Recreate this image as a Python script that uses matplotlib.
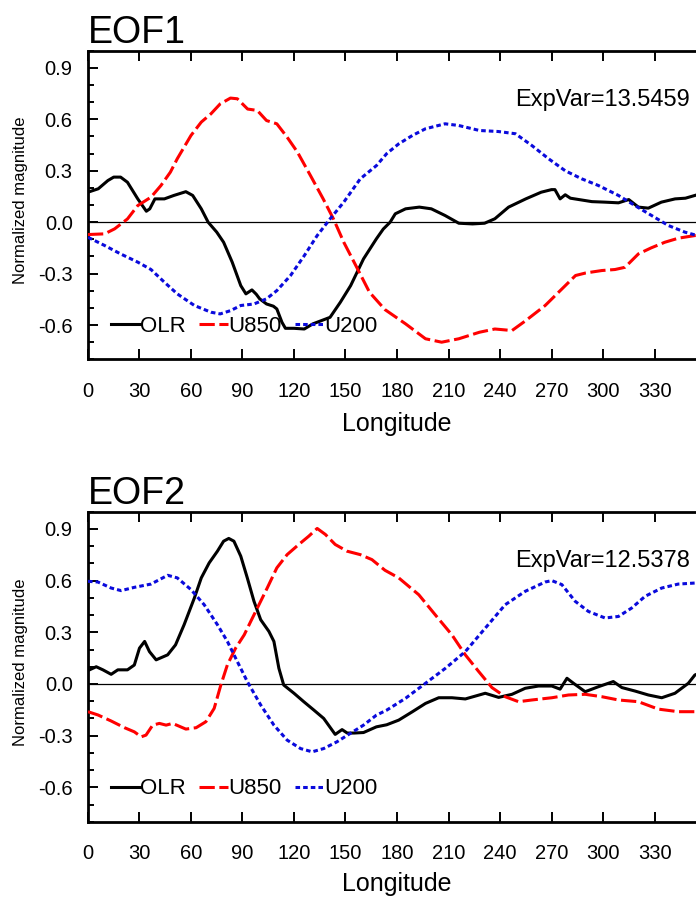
import matplotlib
matplotlib.use("Agg")
import matplotlib.pyplot as plt
from matplotlib.ticker import MultipleLocator

plt.rcParams["font.family"] = ["Liberation Sans", "DejaVu Sans"]
plt.rcParams["axes.unicode_minus"] = False

# ---------------- EOF1 ----------------
eof1_olr_lon = [0, 6, 11.6, 15, 19, 23, 29, 34, 36, 39, 44.5, 50, 57, 61, 66, 70, 75, 79, 84, 89,
                92, 95.5, 98, 100, 104, 108, 110, 113, 115, 120, 126, 131, 141, 147, 153, 160.5,
                168, 172, 176, 179, 185, 193, 200, 208, 216, 224, 231, 237, 245, 255, 264, 270,
                272, 275, 278, 281, 286, 293.5, 301, 309, 315, 320.6, 326.4, 334, 342, 348,
                353.5, 360]
eof1_olr_val = [0.175, 0.195, 0.243, 0.263, 0.263, 0.233, 0.136, 0.064, 0.078, 0.136, 0.136,
                0.156, 0.178, 0.156, 0.078, 0.0, -0.058, -0.117, -0.233, -0.37, -0.418, -0.395,
                -0.42, -0.447, -0.477, -0.49, -0.506, -0.584, -0.619, -0.619, -0.623, -0.593,
                -0.555, -0.467, -0.37, -0.214, -0.097, -0.04, 0.0, 0.049, 0.078, 0.088, 0.078,
                0.039, -0.006, -0.01, -0.006, 0.02, 0.088, 0.136, 0.175, 0.19, 0.19, 0.136, 0.16,
                0.14, 0.132, 0.12, 0.117, 0.113, 0.132, 0.088, 0.082, 0.117, 0.136, 0.14, 0.156,
                0.175]

eof1_u850_lon = [0, 9.7, 15.5, 23, 29, 36.7, 42.5, 48, 52, 60, 66, 71.6, 77, 83, 87, 93, 98.6,
                 104, 110, 116, 122, 129.6, 137, 143, 149, 157, 164, 173, 185, 196.6, 206, 216,
                 228, 237, 247, 255, 266.3, 276, 284, 290, 299.3, 307, 312.8, 320.6, 328, 336,
                 344, 353.5, 360]
eof1_u850_val = [-0.072, -0.068, -0.039, 0.019, 0.097, 0.146, 0.214, 0.292, 0.37, 0.506, 0.584,
                 0.632, 0.69, 0.724, 0.72, 0.66, 0.652, 0.593, 0.574, 0.496, 0.409, 0.272, 0.136,
                 0.019, -0.117, -0.272, -0.409, -0.51, -0.593, -0.68, -0.70, -0.68, -0.642,
                 -0.623, -0.632, -0.574, -0.486, -0.39, -0.311, -0.296, -0.282, -0.276, -0.263,
                 -0.185, -0.15, -0.117, -0.093, -0.078, -0.072]

eof1_u200_lon = [0, 9.7, 19, 29, 36.7, 44.5, 52, 62, 71.6, 77, 83, 89, 96.7, 104, 110, 118, 126,
                 133.5, 141, 149, 158.6, 168, 174, 181, 189, 196.6, 208, 216, 228, 239, 249,
                 258.6, 268.3, 278, 287.6, 297.3, 309, 318.6, 328.3, 338, 347.7, 353.5, 360]
eof1_u200_val = [-0.088, -0.136, -0.185, -0.233, -0.276, -0.35, -0.418, -0.486, -0.525, -0.535,
                 -0.516, -0.486, -0.477, -0.447, -0.399, -0.311, -0.195, -0.078, 0.019, 0.117,
                 0.253, 0.33, 0.40, 0.457, 0.506, 0.545, 0.574, 0.564, 0.535, 0.529, 0.516,
                 0.447, 0.37, 0.30, 0.253, 0.214, 0.156, 0.097, 0.039, -0.019, -0.058, -0.074,
                 -0.088]

# ---------------- EOF2 ----------------
eof2_olr_lon = [0, 4.8, 8.7, 13.5, 17.4, 23, 27, 30, 33, 35.8, 39.7, 46.4, 51, 56, 62, 66, 70.6,
                75.4, 79, 82, 85, 89, 92.8, 96.7, 100.6, 105.4, 108.3, 111.2, 114, 120, 125.7,
                131.5, 137.3, 144, 148, 151, 155, 160.5, 168, 174, 181, 189, 196.6, 204.3, 212,
                219.8, 231.4, 239.2, 247, 254.7, 262.4, 270.2, 275, 279, 282.8, 289.6, 297.3,
                306, 311, 318.6, 326.4, 334.2, 341.9, 349.7, 353.5, 360]
eof2_olr_val = [0.078, 0.10, 0.082, 0.056, 0.082, 0.082, 0.11, 0.208, 0.247, 0.188, 0.14, 0.169,
                0.227, 0.344, 0.50, 0.616, 0.703, 0.771, 0.829, 0.845, 0.829, 0.742, 0.616, 0.48,
                0.373, 0.305, 0.247, 0.091, -0.006, -0.054, -0.103, -0.151, -0.20, -0.293,
                -0.265, -0.285, -0.285, -0.282, -0.249, -0.237, -0.21, -0.161, -0.113, -0.08,
                -0.08, -0.087, -0.054, -0.078, -0.06, -0.025, -0.012, -0.012, -0.03, 0.033,
                0.004, -0.045, -0.016, 0.014, -0.021, -0.041, -0.064, -0.08, -0.054, 0.004,
                0.052, 0.078]

eof2_u850_lon = [0, 5.8, 13.5, 21.3, 27, 31, 33.8, 37.7, 41.6, 45.5, 49.3, 57, 63, 68.7, 73.5,
                 77.4, 81.2, 86, 91, 94.8, 99.6, 104.4, 110, 116, 122.8, 128.6, 133.5, 138.3,
                 144, 150.9, 158.6, 165.4, 173, 181, 192.7, 202.4, 212, 219.8, 227.6, 235.3, 243,
                 250.8, 258.6, 270.2, 279.9, 289.6, 299.3, 309, 320.6, 332.2, 343.8, 353.5, 360]
eof2_u850_val = [-0.161, -0.18, -0.215, -0.254, -0.278, -0.307, -0.297, -0.239, -0.229, -0.239,
                 -0.229, -0.262, -0.254, -0.219, -0.142, -0.006, 0.111, 0.208, 0.285, 0.363,
                 0.46, 0.557, 0.674, 0.751, 0.81, 0.858, 0.903, 0.868, 0.81, 0.771, 0.751,
                 0.722, 0.66, 0.616, 0.518, 0.40, 0.285, 0.169, 0.072, -0.021, -0.074, -0.103,
                 -0.093, -0.08, -0.064, -0.06, -0.074, -0.093, -0.103, -0.146, -0.161, -0.161,
                 -0.161]

eof2_u200_lon = [0, 5.8, 13.5, 19.3, 27, 36.7, 46.4, 52, 60, 67.7, 75.4, 81.2, 87, 92.8, 100.6,
                 108.3, 116, 123.8, 130.6, 137.3, 145, 152.8, 160.5, 168, 174, 185, 196.6,
                 208.2, 219.8, 231.4, 243, 254.7, 266.3, 270.2, 276, 283.8, 291.5, 301.2, 309,
                 316.7, 324.5, 334.2, 343.8, 353.5, 360]
eof2_u200_val = [0.596, 0.592, 0.557, 0.542, 0.561, 0.58, 0.631, 0.616, 0.548, 0.46, 0.344,
                 0.247, 0.13, 0.014, -0.122, -0.239, -0.326, -0.375, -0.394, -0.375, -0.336,
                 -0.287, -0.239, -0.181, -0.152, -0.083, 0.004, 0.091, 0.188, 0.324, 0.46, 0.538,
                 0.592, 0.60, 0.577, 0.48, 0.421, 0.383, 0.392, 0.441, 0.509, 0.557, 0.58,
                 0.586, 0.596]

titles = ["EOF1", "EOF2"]
exp_var = ["ExpVar=13.5459", "ExpVar=12.5378"]
series_names = ["OLR", "U850", "U200"]
x_ticks = list(range(0, 360, 30))
y_ticks = [-0.6, -0.3, 0.0, 0.3, 0.6, 0.9]
y_tick_labels = ["-0.6", "-0.3", "0.0", "0.3", "0.6", "0.9"]

panels = [
    [(eof1_olr_lon, eof1_olr_val), (eof1_u850_lon, eof1_u850_val), (eof1_u200_lon, eof1_u200_val)],
    [(eof2_olr_lon, eof2_olr_val), (eof2_u850_lon, eof2_u850_val), (eof2_u200_lon, eof2_u200_val)],
]

line_styles = [
    dict(color="black", linestyle="-"),
    dict(color="#ff0000", linestyle=(0, (5, 1.5))),
    dict(color="#0a0adc", linestyle=(0, (1.5, 1.0))),
]

fig = plt.figure(figsize=(6.96, 8.97), dpi=100)
positions = [[0.1264, 0.5994, 0.888, 0.344], [0.1264, 0.0839, 0.888, 0.3456]]
xlabel_y = [-0.172, -0.163]

for k, pos in enumerate(positions):
    ax = fig.add_axes(pos)
    ax.axhline(0.0, color="black", lw=0.9, zorder=1)
    handles = []
    for (lon, val), style, name in zip(panels[k], line_styles, series_names):
        h, = ax.plot(lon, val, lw=2.2, label=name, zorder=3, **style)
        handles.append(h)

    ax.set_xlim(0, 360)
    ax.set_ylim(-0.8, 1.0)
    ax.set_xticks(x_ticks)
    ax.set_yticks(y_ticks)
    ax.set_yticklabels(y_tick_labels)
    ax.yaxis.set_minor_locator(MultipleLocator(0.1))
    ax.tick_params(axis="both", which="both", direction="in", top=True, right=True,
                   labelsize=14.5, width=1.4)
    ax.tick_params(axis="both", which="major", length=7.5)
    ax.tick_params(axis="y", which="minor", length=4.3)
    ax.tick_params(axis="x", which="major", pad=16)
    ax.tick_params(axis="y", which="major", pad=11)
    for sp in ax.spines.values():
        sp.set_linewidth(2.0)

    ax.set_title(titles[k], loc="left", fontsize=27, pad=5)
    ax.set_xlabel("Longitude", fontsize=18)
    ax.xaxis.set_label_coords(0.5, xlabel_y[k])
    ax.set_ylabel("Normalized magnitude", fontsize=12)
    ax.yaxis.set_label_coords(-0.097, 0.516)

    ax.text(350.6, 0.712, exp_var[k], ha="right", va="center", fontsize=17)

    ax.legend(handles=handles, loc="center left", bbox_to_anchor=(0.038, 0.106), ncol=3,
              frameon=False, fontsize=16, handlelength=1.3, handletextpad=0.0,
              columnspacing=0.6, borderpad=0.0, borderaxespad=0.0)

fig.savefig("out.png", dpi=100)
